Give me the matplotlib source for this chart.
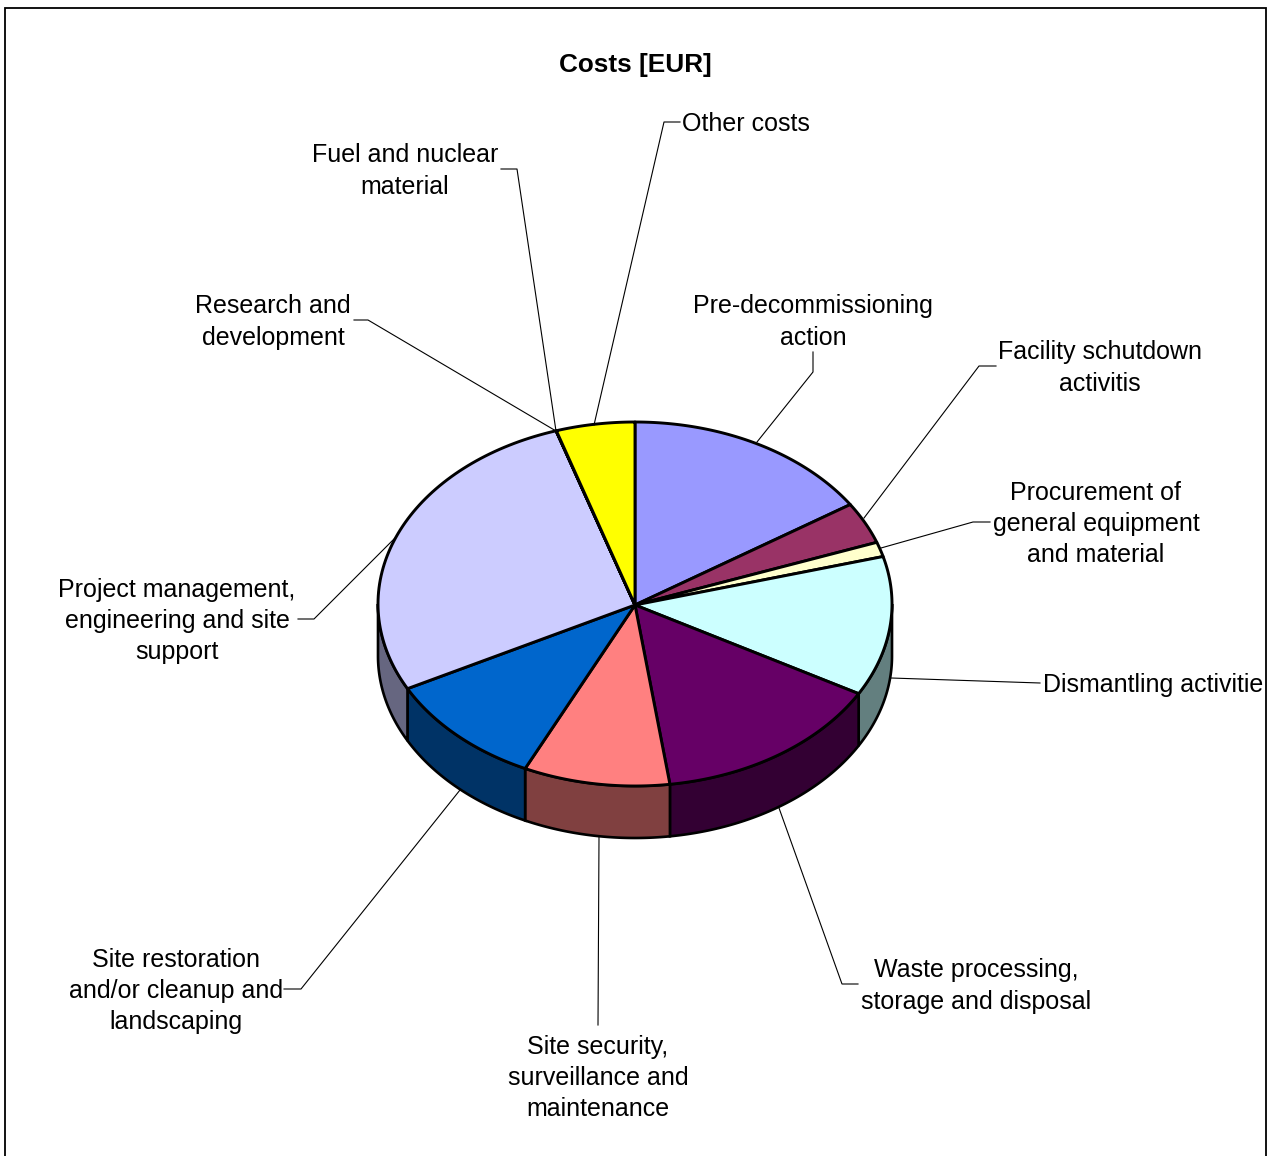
import numpy as np
import matplotlib
matplotlib.use("Agg")
import matplotlib.pyplot as plt
from matplotlib.patches import Polygon, Rectangle

plt.rcParams['font.family'] = ['Liberation Sans', 'DejaVu Sans']

# shares of the total, clockwise from 12 o'clock
labels = ["Pre-decommissioning\naction", "Facility schutdown\nactivitis",
          "Procurement of\ngeneral equipment\nand material", "Dismantling activities",
          "Waste processing,\nstorage and disposal", "Site security,\nsurveillance and\nmaintenance",
          "Site restoration\nand/or cleanup and\nlandscaping",
          "Project management,\nengineering and site\nsupport",
          "Research and\ndevelopment", "Fuel and nuclear\nmaterial", "Other costs"]
values = [15.8, 3.7, 1.3, 12.4, 14.63, 9.2, 10.27, 27.73, 0.01, 0.01, 4.95]
top_colors = ["#9999FF", "#993366", "#FFFFCC", "#CCFFFF", "#660066", "#FF8080",
              "#0066CC", "#CCCCFF", "#000080", "#FF00FF", "#FFFF00"]
side_colors = ["#5C5C99", "#5C1F3D", "#99997A", "#637F7F", "#330033", "#804040",
               "#003366", "#666680", "#000040", "#800080", "#808000"]

W, H = 1273, 1156
cx, cy = 635, 604
hub_y = 605
rx, ry, depth = 257, 182, 52

# label anchor (pixels) and leader line waypoints (pixels)
label_pos = [(813, 322), (1100, 368), (1096, 524), (1043, 685), (976, 986), (598, 1078),
             (176, 991), (177, 621), (273, 322), (405, 171), (682, 124)]
label_ha = ["center"] * 3 + ["left"] + ["center"] * 6 + ["left"]
leaders = [[(813, 352), (813, 372), (757, 442)],
           [(996, 366), (979, 366), (864, 518)],
           [(990, 522), (973, 522), (881, 548)],
           [(1040, 683), (891, 678)],
           [(858, 984), (842, 984), (779, 808)],
           [(598, 1025), (599, 837)],
           [(284, 989), (301, 989), (460, 790)],
           [(298, 619), (314, 619), (396, 537)],
           [(354, 320), (368, 320), (556, 431)],
           [(501, 169), (517, 169), (556, 431)],
           [(680, 122), (664, 122), (594, 425)]]

fig = plt.figure(figsize=(W / 100, H / 100), dpi=100)
ax = fig.add_axes([0, 0, 1, 1])
ax.set_xlim(0, W)
ax.set_ylim(H, 0)
ax.axis("off")

ax.add_patch(Rectangle((5, 8), 1260.5, 1200, fc="white", ec="black", lw=1.3, zorder=0))
# labels stop just short of the frame, like the original
text_clip = Rectangle((6, 9), 1257, 1190, transform=ax.transData)

edges = np.cumsum([0] + values) / sum(values) * 2 * np.pi


def rim(a0, a1):
    t = np.linspace(a0, a1, 80)
    return cx + rx * np.sin(t), cy - ry * np.cos(t)


# side wall, only the part facing the viewer (pi/2 .. 3pi/2)
for i in range(len(values)):
    a0 = max(edges[i], np.pi / 2)
    a1 = min(edges[i + 1], 3 * np.pi / 2)
    if a1 <= a0:
        continue
    x, y = rim(a0, a1)
    pts = np.r_[np.c_[x, y], np.c_[x[::-1], y[::-1] + depth]]
    ax.add_patch(Polygon(pts, closed=True, fc=side_colors[i], ec="black", lw=1.9, zorder=2))

# top face
for i in range(len(values)):
    x, y = rim(edges[i], edges[i + 1])
    pts = np.r_[[(cx, hub_y)], np.c_[x, y]]
    ax.add_patch(Polygon(pts, closed=True, fc=top_colors[i], ec="black", lw=2.1, zorder=3,
                         joinstyle="round"))

for pts in leaders:
    xs, ys = zip(*pts)
    ax.plot(xs, ys, color="black", lw=0.8, zorder=4)

for name, (lx, ly), ha in zip(labels, label_pos, label_ha):
    t = ax.text(lx, ly, name, ha=ha, va="center", fontsize=18.0, linespacing=1.39, zorder=5)
    t.set_clip_path(text_clip)
    t.set_clip_on(True)

ax.text(635.5, 65, "Costs [EUR]", ha="center", va="center", fontsize=18.85, fontweight="bold")

fig.savefig("out.png", dpi=100)
